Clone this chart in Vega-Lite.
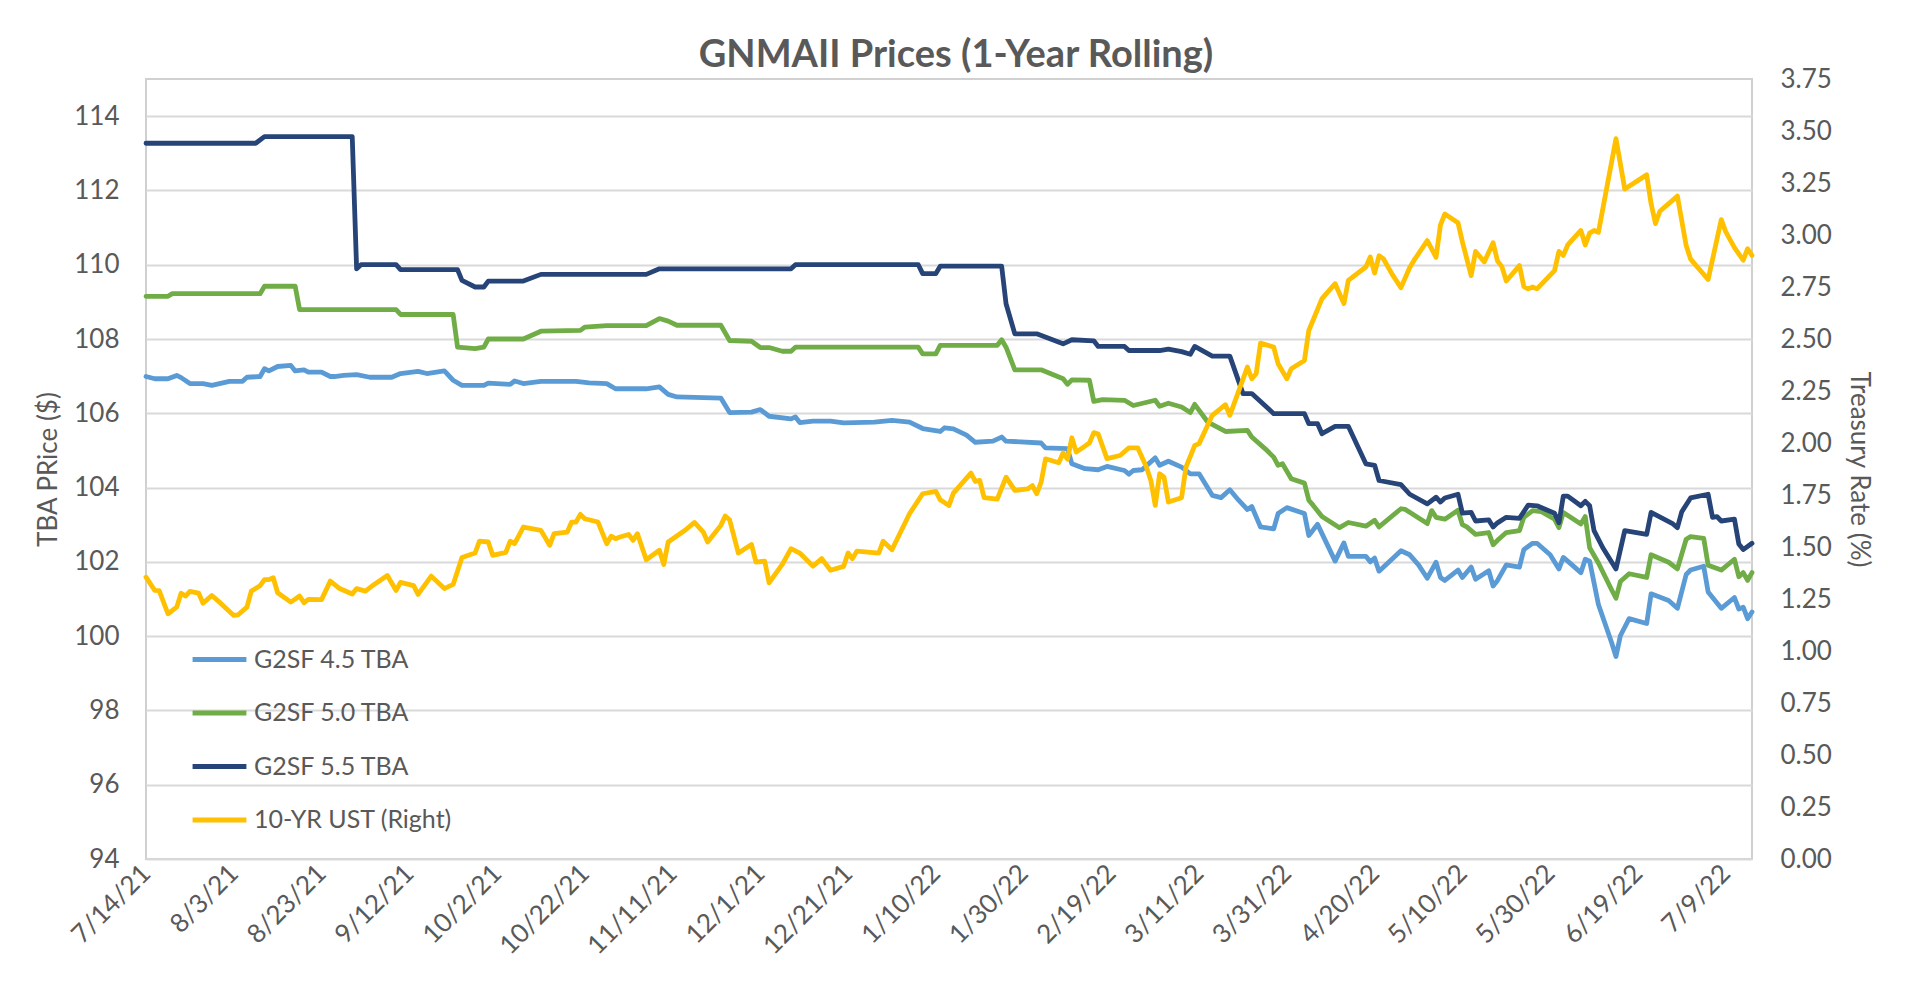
{
"$schema": "https://vega.github.io/schema/vega-lite/v6.json",
"width": 1606, "height": 780,
"autosize": {"type": "none"},
"padding": {"left": 146, "top": 79, "right": 155, "bottom": 136},
"background": "white",
"config": {
  "font": "Lato",
  "view": {"stroke": "#D0D0D0", "strokeWidth": 2},
  "axis": {"labelColor": "#595959", "titleColor": "#595959", "labelFont": "Lato", "titleFont": "Lato", "ticks": false, "domain": false, "labelFontSize": 26, "titleFontSize": 26, "titleFontWeight": "normal"}
},
"title": {"text": "GNMAII Prices (1-Year Rolling)", "fontSize": 38, "fontWeight": "bold", "color": "#595959", "font": "Lato", "anchor": "middle", "frame": "group", "offset": 10, "dy": 19, "dx": 7},
"data": {"values": [
{"date":"2021-07-14","series":"G2SF 4.5 TBA","value":106.99},
{"date":"2021-07-16","series":"G2SF 4.5 TBA","value":106.93},
{"date":"2021-07-19","series":"G2SF 4.5 TBA","value":106.93},
{"date":"2021-07-21","series":"G2SF 4.5 TBA","value":107.02},
{"date":"2021-07-22","series":"G2SF 4.5 TBA","value":106.96},
{"date":"2021-07-24","series":"G2SF 4.5 TBA","value":106.8},
{"date":"2021-07-27","series":"G2SF 4.5 TBA","value":106.8},
{"date":"2021-07-29","series":"G2SF 4.5 TBA","value":106.75},
{"date":"2021-08-02","series":"G2SF 4.5 TBA","value":106.86},
{"date":"2021-08-05","series":"G2SF 4.5 TBA","value":106.86},
{"date":"2021-08-06","series":"G2SF 4.5 TBA","value":106.97},
{"date":"2021-08-09","series":"G2SF 4.5 TBA","value":106.99},
{"date":"2021-08-10","series":"G2SF 4.5 TBA","value":107.2},
{"date":"2021-08-11","series":"G2SF 4.5 TBA","value":107.14},
{"date":"2021-08-13","series":"G2SF 4.5 TBA","value":107.26},
{"date":"2021-08-16","series":"G2SF 4.5 TBA","value":107.29},
{"date":"2021-08-17","series":"G2SF 4.5 TBA","value":107.14},
{"date":"2021-08-19","series":"G2SF 4.5 TBA","value":107.17},
{"date":"2021-08-20","series":"G2SF 4.5 TBA","value":107.11},
{"date":"2021-08-23","series":"G2SF 4.5 TBA","value":107.11},
{"date":"2021-08-25","series":"G2SF 4.5 TBA","value":106.99},
{"date":"2021-08-26","series":"G2SF 4.5 TBA","value":106.99},
{"date":"2021-08-28","series":"G2SF 4.5 TBA","value":107.02},
{"date":"2021-08-31","series":"G2SF 4.5 TBA","value":107.04},
{"date":"2021-09-03","series":"G2SF 4.5 TBA","value":106.97},
{"date":"2021-09-08","series":"G2SF 4.5 TBA","value":106.97},
{"date":"2021-09-10","series":"G2SF 4.5 TBA","value":107.07},
{"date":"2021-09-14","series":"G2SF 4.5 TBA","value":107.13},
{"date":"2021-09-16","series":"G2SF 4.5 TBA","value":107.07},
{"date":"2021-09-20","series":"G2SF 4.5 TBA","value":107.14},
{"date":"2021-09-22","series":"G2SF 4.5 TBA","value":106.89},
{"date":"2021-09-24","series":"G2SF 4.5 TBA","value":106.75},
{"date":"2021-09-29","series":"G2SF 4.5 TBA","value":106.75},
{"date":"2021-09-30","series":"G2SF 4.5 TBA","value":106.81},
{"date":"2021-10-05","series":"G2SF 4.5 TBA","value":106.78},
{"date":"2021-10-06","series":"G2SF 4.5 TBA","value":106.87},
{"date":"2021-10-08","series":"G2SF 4.5 TBA","value":106.8},
{"date":"2021-10-12","series":"G2SF 4.5 TBA","value":106.86},
{"date":"2021-10-20","series":"G2SF 4.5 TBA","value":106.86},
{"date":"2021-10-23","series":"G2SF 4.5 TBA","value":106.82},
{"date":"2021-10-27","series":"G2SF 4.5 TBA","value":106.8},
{"date":"2021-10-29","series":"G2SF 4.5 TBA","value":106.66},
{"date":"2021-11-05","series":"G2SF 4.5 TBA","value":106.66},
{"date":"2021-11-08","series":"G2SF 4.5 TBA","value":106.71},
{"date":"2021-11-10","series":"G2SF 4.5 TBA","value":106.51},
{"date":"2021-11-12","series":"G2SF 4.5 TBA","value":106.44},
{"date":"2021-11-22","series":"G2SF 4.5 TBA","value":106.41},
{"date":"2021-11-24","series":"G2SF 4.5 TBA","value":106.02},
{"date":"2021-11-29","series":"G2SF 4.5 TBA","value":106.03},
{"date":"2021-12-01","series":"G2SF 4.5 TBA","value":106.1},
{"date":"2021-12-03","series":"G2SF 4.5 TBA","value":105.92},
{"date":"2021-12-08","series":"G2SF 4.5 TBA","value":105.85},
{"date":"2021-12-09","series":"G2SF 4.5 TBA","value":105.9},
{"date":"2021-12-10","series":"G2SF 4.5 TBA","value":105.75},
{"date":"2021-12-13","series":"G2SF 4.5 TBA","value":105.79},
{"date":"2021-12-17","series":"G2SF 4.5 TBA","value":105.79},
{"date":"2021-12-20","series":"G2SF 4.5 TBA","value":105.74},
{"date":"2021-12-27","series":"G2SF 4.5 TBA","value":105.76},
{"date":"2021-12-31","series":"G2SF 4.5 TBA","value":105.81},
{"date":"2022-01-04","series":"G2SF 4.5 TBA","value":105.76},
{"date":"2022-01-07","series":"G2SF 4.5 TBA","value":105.59},
{"date":"2022-01-11","series":"G2SF 4.5 TBA","value":105.51},
{"date":"2022-01-12","series":"G2SF 4.5 TBA","value":105.61},
{"date":"2022-01-14","series":"G2SF 4.5 TBA","value":105.58},
{"date":"2022-01-17","series":"G2SF 4.5 TBA","value":105.41},
{"date":"2022-01-19","series":"G2SF 4.5 TBA","value":105.22},
{"date":"2022-01-23","series":"G2SF 4.5 TBA","value":105.25},
{"date":"2022-01-25","series":"G2SF 4.5 TBA","value":105.36},
{"date":"2022-01-26","series":"G2SF 4.5 TBA","value":105.25},
{"date":"2022-02-03","series":"G2SF 4.5 TBA","value":105.2},
{"date":"2022-02-04","series":"G2SF 4.5 TBA","value":105.07},
{"date":"2022-02-09","series":"G2SF 4.5 TBA","value":105.05},
{"date":"2022-02-10","series":"G2SF 4.5 TBA","value":104.64},
{"date":"2022-02-13","series":"G2SF 4.5 TBA","value":104.51},
{"date":"2022-02-16","series":"G2SF 4.5 TBA","value":104.48},
{"date":"2022-02-18","series":"G2SF 4.5 TBA","value":104.57},
{"date":"2022-02-22","series":"G2SF 4.5 TBA","value":104.46},
{"date":"2022-02-23","series":"G2SF 4.5 TBA","value":104.36},
{"date":"2022-02-24","series":"G2SF 4.5 TBA","value":104.46},
{"date":"2022-02-26","series":"G2SF 4.5 TBA","value":104.48},
{"date":"2022-03-01","series":"G2SF 4.5 TBA","value":104.8},
{"date":"2022-03-02","series":"G2SF 4.5 TBA","value":104.6},
{"date":"2022-03-04","series":"G2SF 4.5 TBA","value":104.71},
{"date":"2022-03-07","series":"G2SF 4.5 TBA","value":104.55},
{"date":"2022-03-09","series":"G2SF 4.5 TBA","value":104.37},
{"date":"2022-03-11","series":"G2SF 4.5 TBA","value":104.37},
{"date":"2022-03-14","series":"G2SF 4.5 TBA","value":103.79},
{"date":"2022-03-16","series":"G2SF 4.5 TBA","value":103.73},
{"date":"2022-03-18","series":"G2SF 4.5 TBA","value":103.94},
{"date":"2022-03-20","series":"G2SF 4.5 TBA","value":103.66},
{"date":"2022-03-22","series":"G2SF 4.5 TBA","value":103.41},
{"date":"2022-03-23","series":"G2SF 4.5 TBA","value":103.49},
{"date":"2022-03-25","series":"G2SF 4.5 TBA","value":102.94},
{"date":"2022-03-28","series":"G2SF 4.5 TBA","value":102.89},
{"date":"2022-03-29","series":"G2SF 4.5 TBA","value":103.3},
{"date":"2022-03-31","series":"G2SF 4.5 TBA","value":103.46},
{"date":"2022-04-04","series":"G2SF 4.5 TBA","value":103.3},
{"date":"2022-04-05","series":"G2SF 4.5 TBA","value":102.71},
{"date":"2022-04-07","series":"G2SF 4.5 TBA","value":103.01},
{"date":"2022-04-11","series":"G2SF 4.5 TBA","value":102.02},
{"date":"2022-04-13","series":"G2SF 4.5 TBA","value":102.51},
{"date":"2022-04-14","series":"G2SF 4.5 TBA","value":102.15},
{"date":"2022-04-18","series":"G2SF 4.5 TBA","value":102.15},
{"date":"2022-04-19","series":"G2SF 4.5 TBA","value":102.0},
{"date":"2022-04-20","series":"G2SF 4.5 TBA","value":102.1},
{"date":"2022-04-21","series":"G2SF 4.5 TBA","value":101.75},
{"date":"2022-04-26","series":"G2SF 4.5 TBA","value":102.3},
{"date":"2022-04-28","series":"G2SF 4.5 TBA","value":102.19},
{"date":"2022-04-30","series":"G2SF 4.5 TBA","value":101.92},
{"date":"2022-05-02","series":"G2SF 4.5 TBA","value":101.56},
{"date":"2022-05-04","series":"G2SF 4.5 TBA","value":101.99},
{"date":"2022-05-05","series":"G2SF 4.5 TBA","value":101.58},
{"date":"2022-05-06","series":"G2SF 4.5 TBA","value":101.5},
{"date":"2022-05-09","series":"G2SF 4.5 TBA","value":101.78},
{"date":"2022-05-10","series":"G2SF 4.5 TBA","value":101.58},
{"date":"2022-05-12","series":"G2SF 4.5 TBA","value":101.86},
{"date":"2022-05-13","series":"G2SF 4.5 TBA","value":101.53},
{"date":"2022-05-16","series":"G2SF 4.5 TBA","value":101.76},
{"date":"2022-05-17","series":"G2SF 4.5 TBA","value":101.35},
{"date":"2022-05-18","series":"G2SF 4.5 TBA","value":101.5},
{"date":"2022-05-20","series":"G2SF 4.5 TBA","value":101.92},
{"date":"2022-05-23","series":"G2SF 4.5 TBA","value":101.86},
{"date":"2022-05-24","series":"G2SF 4.5 TBA","value":102.33},
{"date":"2022-05-26","series":"G2SF 4.5 TBA","value":102.5},
{"date":"2022-05-27","series":"G2SF 4.5 TBA","value":102.5},
{"date":"2022-05-30","series":"G2SF 4.5 TBA","value":102.19},
{"date":"2022-06-01","series":"G2SF 4.5 TBA","value":101.81},
{"date":"2022-06-02","series":"G2SF 4.5 TBA","value":102.12},
{"date":"2022-06-03","series":"G2SF 4.5 TBA","value":102.02},
{"date":"2022-06-06","series":"G2SF 4.5 TBA","value":101.71},
{"date":"2022-06-07","series":"G2SF 4.5 TBA","value":102.07},
{"date":"2022-06-08","series":"G2SF 4.5 TBA","value":102.02},
{"date":"2022-06-10","series":"G2SF 4.5 TBA","value":100.85},
{"date":"2022-06-13","series":"G2SF 4.5 TBA","value":99.83},
{"date":"2022-06-14","series":"G2SF 4.5 TBA","value":99.45},
{"date":"2022-06-15","series":"G2SF 4.5 TBA","value":100.01},
{"date":"2022-06-17","series":"G2SF 4.5 TBA","value":100.47},
{"date":"2022-06-21","series":"G2SF 4.5 TBA","value":100.34},
{"date":"2022-06-22","series":"G2SF 4.5 TBA","value":101.14},
{"date":"2022-06-26","series":"G2SF 4.5 TBA","value":100.96},
{"date":"2022-06-28","series":"G2SF 4.5 TBA","value":100.75},
{"date":"2022-06-30","series":"G2SF 4.5 TBA","value":101.66},
{"date":"2022-07-01","series":"G2SF 4.5 TBA","value":101.78},
{"date":"2022-07-04","series":"G2SF 4.5 TBA","value":101.88},
{"date":"2022-07-05","series":"G2SF 4.5 TBA","value":101.19},
{"date":"2022-07-08","series":"G2SF 4.5 TBA","value":100.75},
{"date":"2022-07-11","series":"G2SF 4.5 TBA","value":101.04},
{"date":"2022-07-12","series":"G2SF 4.5 TBA","value":100.73},
{"date":"2022-07-13","series":"G2SF 4.5 TBA","value":100.78},
{"date":"2022-07-14","series":"G2SF 4.5 TBA","value":100.47},
{"date":"2022-07-15","series":"G2SF 4.5 TBA","value":100.65},
{"date":"2021-07-14","series":"G2SF 5.0 TBA","value":109.15},
{"date":"2021-07-19","series":"G2SF 5.0 TBA","value":109.15},
{"date":"2021-07-20","series":"G2SF 5.0 TBA","value":109.22},
{"date":"2021-08-09","series":"G2SF 5.0 TBA","value":109.22},
{"date":"2021-08-10","series":"G2SF 5.0 TBA","value":109.42},
{"date":"2021-08-17","series":"G2SF 5.0 TBA","value":109.42},
{"date":"2021-08-18","series":"G2SF 5.0 TBA","value":108.79},
{"date":"2021-09-09","series":"G2SF 5.0 TBA","value":108.79},
{"date":"2021-09-10","series":"G2SF 5.0 TBA","value":108.66},
{"date":"2021-09-22","series":"G2SF 5.0 TBA","value":108.66},
{"date":"2021-09-23","series":"G2SF 5.0 TBA","value":107.78},
{"date":"2021-09-27","series":"G2SF 5.0 TBA","value":107.74},
{"date":"2021-09-29","series":"G2SF 5.0 TBA","value":107.78},
{"date":"2021-09-30","series":"G2SF 5.0 TBA","value":108.0},
{"date":"2021-10-08","series":"G2SF 5.0 TBA","value":108.0},
{"date":"2021-10-12","series":"G2SF 5.0 TBA","value":108.21},
{"date":"2021-10-21","series":"G2SF 5.0 TBA","value":108.23},
{"date":"2021-10-22","series":"G2SF 5.0 TBA","value":108.32},
{"date":"2021-10-27","series":"G2SF 5.0 TBA","value":108.36},
{"date":"2021-11-05","series":"G2SF 5.0 TBA","value":108.36},
{"date":"2021-11-08","series":"G2SF 5.0 TBA","value":108.55},
{"date":"2021-11-10","series":"G2SF 5.0 TBA","value":108.48},
{"date":"2021-11-12","series":"G2SF 5.0 TBA","value":108.37},
{"date":"2021-11-22","series":"G2SF 5.0 TBA","value":108.37},
{"date":"2021-11-24","series":"G2SF 5.0 TBA","value":107.96},
{"date":"2021-11-29","series":"G2SF 5.0 TBA","value":107.94},
{"date":"2021-12-01","series":"G2SF 5.0 TBA","value":107.77},
{"date":"2021-12-03","series":"G2SF 5.0 TBA","value":107.77},
{"date":"2021-12-06","series":"G2SF 5.0 TBA","value":107.67},
{"date":"2021-12-08","series":"G2SF 5.0 TBA","value":107.67},
{"date":"2021-12-09","series":"G2SF 5.0 TBA","value":107.78},
{"date":"2022-01-06","series":"G2SF 5.0 TBA","value":107.78},
{"date":"2022-01-07","series":"G2SF 5.0 TBA","value":107.6},
{"date":"2022-01-10","series":"G2SF 5.0 TBA","value":107.6},
{"date":"2022-01-11","series":"G2SF 5.0 TBA","value":107.83},
{"date":"2022-01-24","series":"G2SF 5.0 TBA","value":107.83},
{"date":"2022-01-25","series":"G2SF 5.0 TBA","value":107.98},
{"date":"2022-01-26","series":"G2SF 5.0 TBA","value":107.78},
{"date":"2022-01-28","series":"G2SF 5.0 TBA","value":107.17},
{"date":"2022-02-03","series":"G2SF 5.0 TBA","value":107.17},
{"date":"2022-02-08","series":"G2SF 5.0 TBA","value":106.93},
{"date":"2022-02-09","series":"G2SF 5.0 TBA","value":106.78},
{"date":"2022-02-10","series":"G2SF 5.0 TBA","value":106.9},
{"date":"2022-02-14","series":"G2SF 5.0 TBA","value":106.89},
{"date":"2022-02-15","series":"G2SF 5.0 TBA","value":106.32},
{"date":"2022-02-17","series":"G2SF 5.0 TBA","value":106.37},
{"date":"2022-02-22","series":"G2SF 5.0 TBA","value":106.35},
{"date":"2022-02-24","series":"G2SF 5.0 TBA","value":106.21},
{"date":"2022-03-01","series":"G2SF 5.0 TBA","value":106.35},
{"date":"2022-03-02","series":"G2SF 5.0 TBA","value":106.19},
{"date":"2022-03-04","series":"G2SF 5.0 TBA","value":106.27},
{"date":"2022-03-07","series":"G2SF 5.0 TBA","value":106.17},
{"date":"2022-03-09","series":"G2SF 5.0 TBA","value":106.02},
{"date":"2022-03-10","series":"G2SF 5.0 TBA","value":106.24},
{"date":"2022-03-13","series":"G2SF 5.0 TBA","value":105.76},
{"date":"2022-03-17","series":"G2SF 5.0 TBA","value":105.51},
{"date":"2022-03-22","series":"G2SF 5.0 TBA","value":105.54},
{"date":"2022-03-23","series":"G2SF 5.0 TBA","value":105.36},
{"date":"2022-03-26","series":"G2SF 5.0 TBA","value":105.05},
{"date":"2022-03-28","series":"G2SF 5.0 TBA","value":104.82},
{"date":"2022-03-29","series":"G2SF 5.0 TBA","value":104.6},
{"date":"2022-03-30","series":"G2SF 5.0 TBA","value":104.64},
{"date":"2022-04-01","series":"G2SF 5.0 TBA","value":104.24},
{"date":"2022-04-04","series":"G2SF 5.0 TBA","value":104.12},
{"date":"2022-04-05","series":"G2SF 5.0 TBA","value":103.66},
{"date":"2022-04-06","series":"G2SF 5.0 TBA","value":103.52},
{"date":"2022-04-08","series":"G2SF 5.0 TBA","value":103.22},
{"date":"2022-04-12","series":"G2SF 5.0 TBA","value":102.92},
{"date":"2022-04-14","series":"G2SF 5.0 TBA","value":103.06},
{"date":"2022-04-18","series":"G2SF 5.0 TBA","value":102.96},
{"date":"2022-04-20","series":"G2SF 5.0 TBA","value":103.12},
{"date":"2022-04-21","series":"G2SF 5.0 TBA","value":102.94},
{"date":"2022-04-26","series":"G2SF 5.0 TBA","value":103.43},
{"date":"2022-04-27","series":"G2SF 5.0 TBA","value":103.41},
{"date":"2022-05-02","series":"G2SF 5.0 TBA","value":103.03},
{"date":"2022-05-03","series":"G2SF 5.0 TBA","value":103.38},
{"date":"2022-05-04","series":"G2SF 5.0 TBA","value":103.2},
{"date":"2022-05-06","series":"G2SF 5.0 TBA","value":103.15},
{"date":"2022-05-09","series":"G2SF 5.0 TBA","value":103.39},
{"date":"2022-05-10","series":"G2SF 5.0 TBA","value":103.0},
{"date":"2022-05-11","series":"G2SF 5.0 TBA","value":102.94},
{"date":"2022-05-13","series":"G2SF 5.0 TBA","value":102.74},
{"date":"2022-05-16","series":"G2SF 5.0 TBA","value":102.79},
{"date":"2022-05-17","series":"G2SF 5.0 TBA","value":102.46},
{"date":"2022-05-18","series":"G2SF 5.0 TBA","value":102.58},
{"date":"2022-05-20","series":"G2SF 5.0 TBA","value":102.79},
{"date":"2022-05-23","series":"G2SF 5.0 TBA","value":102.84},
{"date":"2022-05-24","series":"G2SF 5.0 TBA","value":103.2},
{"date":"2022-05-26","series":"G2SF 5.0 TBA","value":103.38},
{"date":"2022-05-28","series":"G2SF 5.0 TBA","value":103.35},
{"date":"2022-05-31","series":"G2SF 5.0 TBA","value":103.15},
{"date":"2022-06-01","series":"G2SF 5.0 TBA","value":102.92},
{"date":"2022-06-02","series":"G2SF 5.0 TBA","value":103.33},
{"date":"2022-06-06","series":"G2SF 5.0 TBA","value":103.02},
{"date":"2022-06-07","series":"G2SF 5.0 TBA","value":103.22},
{"date":"2022-06-08","series":"G2SF 5.0 TBA","value":102.38},
{"date":"2022-06-10","series":"G2SF 5.0 TBA","value":101.97},
{"date":"2022-06-13","series":"G2SF 5.0 TBA","value":101.25},
{"date":"2022-06-14","series":"G2SF 5.0 TBA","value":101.02},
{"date":"2022-06-15","series":"G2SF 5.0 TBA","value":101.47},
{"date":"2022-06-17","series":"G2SF 5.0 TBA","value":101.68},
{"date":"2022-06-21","series":"G2SF 5.0 TBA","value":101.58},
{"date":"2022-06-22","series":"G2SF 5.0 TBA","value":102.19},
{"date":"2022-06-26","series":"G2SF 5.0 TBA","value":101.99},
{"date":"2022-06-28","series":"G2SF 5.0 TBA","value":101.81},
{"date":"2022-06-30","series":"G2SF 5.0 TBA","value":102.61},
{"date":"2022-07-01","series":"G2SF 5.0 TBA","value":102.68},
{"date":"2022-07-04","series":"G2SF 5.0 TBA","value":102.63},
{"date":"2022-07-05","series":"G2SF 5.0 TBA","value":101.91},
{"date":"2022-07-08","series":"G2SF 5.0 TBA","value":101.78},
{"date":"2022-07-11","series":"G2SF 5.0 TBA","value":102.07},
{"date":"2022-07-12","series":"G2SF 5.0 TBA","value":101.6},
{"date":"2022-07-13","series":"G2SF 5.0 TBA","value":101.71},
{"date":"2022-07-14","series":"G2SF 5.0 TBA","value":101.5},
{"date":"2022-07-15","series":"G2SF 5.0 TBA","value":101.71},
{"date":"2021-07-14","series":"G2SF 5.5 TBA","value":113.27},
{"date":"2021-08-08","series":"G2SF 5.5 TBA","value":113.27},
{"date":"2021-08-10","series":"G2SF 5.5 TBA","value":113.45},
{"date":"2021-08-30","series":"G2SF 5.5 TBA","value":113.45},
{"date":"2021-08-31","series":"G2SF 5.5 TBA","value":109.89},
{"date":"2021-09-01","series":"G2SF 5.5 TBA","value":110.0},
{"date":"2021-09-09","series":"G2SF 5.5 TBA","value":110.0},
{"date":"2021-09-10","series":"G2SF 5.5 TBA","value":109.87},
{"date":"2021-09-23","series":"G2SF 5.5 TBA","value":109.87},
{"date":"2021-09-24","series":"G2SF 5.5 TBA","value":109.58},
{"date":"2021-09-27","series":"G2SF 5.5 TBA","value":109.4},
{"date":"2021-09-29","series":"G2SF 5.5 TBA","value":109.4},
{"date":"2021-09-30","series":"G2SF 5.5 TBA","value":109.56},
{"date":"2021-10-08","series":"G2SF 5.5 TBA","value":109.56},
{"date":"2021-10-12","series":"G2SF 5.5 TBA","value":109.74},
{"date":"2021-11-05","series":"G2SF 5.5 TBA","value":109.74},
{"date":"2021-11-08","series":"G2SF 5.5 TBA","value":109.89},
{"date":"2021-12-08","series":"G2SF 5.5 TBA","value":109.89},
{"date":"2021-12-09","series":"G2SF 5.5 TBA","value":110.0},
{"date":"2022-01-06","series":"G2SF 5.5 TBA","value":110.0},
{"date":"2022-01-07","series":"G2SF 5.5 TBA","value":109.76},
{"date":"2022-01-10","series":"G2SF 5.5 TBA","value":109.76},
{"date":"2022-01-11","series":"G2SF 5.5 TBA","value":109.96},
{"date":"2022-01-25","series":"G2SF 5.5 TBA","value":109.96},
{"date":"2022-01-26","series":"G2SF 5.5 TBA","value":108.95},
{"date":"2022-01-28","series":"G2SF 5.5 TBA","value":108.14},
{"date":"2022-02-02","series":"G2SF 5.5 TBA","value":108.14},
{"date":"2022-02-08","series":"G2SF 5.5 TBA","value":107.87},
{"date":"2022-02-10","series":"G2SF 5.5 TBA","value":107.98},
{"date":"2022-02-15","series":"G2SF 5.5 TBA","value":107.95},
{"date":"2022-02-16","series":"G2SF 5.5 TBA","value":107.8},
{"date":"2022-02-22","series":"G2SF 5.5 TBA","value":107.8},
{"date":"2022-02-23","series":"G2SF 5.5 TBA","value":107.69},
{"date":"2022-03-02","series":"G2SF 5.5 TBA","value":107.69},
{"date":"2022-03-04","series":"G2SF 5.5 TBA","value":107.73},
{"date":"2022-03-07","series":"G2SF 5.5 TBA","value":107.66},
{"date":"2022-03-09","series":"G2SF 5.5 TBA","value":107.59},
{"date":"2022-03-10","series":"G2SF 5.5 TBA","value":107.8},
{"date":"2022-03-14","series":"G2SF 5.5 TBA","value":107.54},
{"date":"2022-03-18","series":"G2SF 5.5 TBA","value":107.54},
{"date":"2022-03-21","series":"G2SF 5.5 TBA","value":106.53},
{"date":"2022-03-23","series":"G2SF 5.5 TBA","value":106.53},
{"date":"2022-03-28","series":"G2SF 5.5 TBA","value":105.99},
{"date":"2022-04-04","series":"G2SF 5.5 TBA","value":105.99},
{"date":"2022-04-05","series":"G2SF 5.5 TBA","value":105.72},
{"date":"2022-04-07","series":"G2SF 5.5 TBA","value":105.72},
{"date":"2022-04-08","series":"G2SF 5.5 TBA","value":105.45},
{"date":"2022-04-11","series":"G2SF 5.5 TBA","value":105.65},
{"date":"2022-04-14","series":"G2SF 5.5 TBA","value":105.65},
{"date":"2022-04-18","series":"G2SF 5.5 TBA","value":104.64},
{"date":"2022-04-20","series":"G2SF 5.5 TBA","value":104.6},
{"date":"2022-04-21","series":"G2SF 5.5 TBA","value":104.19},
{"date":"2022-04-26","series":"G2SF 5.5 TBA","value":104.08},
{"date":"2022-04-28","series":"G2SF 5.5 TBA","value":103.82},
{"date":"2022-05-02","series":"G2SF 5.5 TBA","value":103.56},
{"date":"2022-05-04","series":"G2SF 5.5 TBA","value":103.74},
{"date":"2022-05-05","series":"G2SF 5.5 TBA","value":103.61},
{"date":"2022-05-06","series":"G2SF 5.5 TBA","value":103.72},
{"date":"2022-05-09","series":"G2SF 5.5 TBA","value":103.82},
{"date":"2022-05-10","series":"G2SF 5.5 TBA","value":103.31},
{"date":"2022-05-12","series":"G2SF 5.5 TBA","value":103.33},
{"date":"2022-05-13","series":"G2SF 5.5 TBA","value":103.1},
{"date":"2022-05-16","series":"G2SF 5.5 TBA","value":103.13},
{"date":"2022-05-17","series":"G2SF 5.5 TBA","value":102.94},
{"date":"2022-05-18","series":"G2SF 5.5 TBA","value":103.05},
{"date":"2022-05-20","series":"G2SF 5.5 TBA","value":103.2},
{"date":"2022-05-23","series":"G2SF 5.5 TBA","value":103.17},
{"date":"2022-05-25","series":"G2SF 5.5 TBA","value":103.53},
{"date":"2022-05-27","series":"G2SF 5.5 TBA","value":103.51},
{"date":"2022-05-31","series":"G2SF 5.5 TBA","value":103.31},
{"date":"2022-06-01","series":"G2SF 5.5 TBA","value":103.05},
{"date":"2022-06-02","series":"G2SF 5.5 TBA","value":103.77},
{"date":"2022-06-03","series":"G2SF 5.5 TBA","value":103.77},
{"date":"2022-06-06","series":"G2SF 5.5 TBA","value":103.51},
{"date":"2022-06-07","series":"G2SF 5.5 TBA","value":103.63},
{"date":"2022-06-08","series":"G2SF 5.5 TBA","value":103.51},
{"date":"2022-06-09","series":"G2SF 5.5 TBA","value":102.84},
{"date":"2022-06-11","series":"G2SF 5.5 TBA","value":102.38},
{"date":"2022-06-14","series":"G2SF 5.5 TBA","value":101.81},
{"date":"2022-06-16","series":"G2SF 5.5 TBA","value":102.84},
{"date":"2022-06-21","series":"G2SF 5.5 TBA","value":102.74},
{"date":"2022-06-22","series":"G2SF 5.5 TBA","value":103.33},
{"date":"2022-06-27","series":"G2SF 5.5 TBA","value":103.02},
{"date":"2022-06-28","series":"G2SF 5.5 TBA","value":102.92},
{"date":"2022-06-29","series":"G2SF 5.5 TBA","value":103.35},
{"date":"2022-07-01","series":"G2SF 5.5 TBA","value":103.72},
{"date":"2022-07-05","series":"G2SF 5.5 TBA","value":103.82},
{"date":"2022-07-06","series":"G2SF 5.5 TBA","value":103.2},
{"date":"2022-07-07","series":"G2SF 5.5 TBA","value":103.22},
{"date":"2022-07-08","series":"G2SF 5.5 TBA","value":103.1},
{"date":"2022-07-11","series":"G2SF 5.5 TBA","value":103.15},
{"date":"2022-07-12","series":"G2SF 5.5 TBA","value":102.48},
{"date":"2022-07-13","series":"G2SF 5.5 TBA","value":102.33},
{"date":"2022-07-15","series":"G2SF 5.5 TBA","value":102.5},
{"date":"2021-07-14","series":"10-YR UST (Right)","value":1.355},
{"date":"2021-07-16","series":"10-YR UST (Right)","value":1.291},
{"date":"2021-07-17","series":"10-YR UST (Right)","value":1.29},
{"date":"2021-07-19","series":"10-YR UST (Right)","value":1.179},
{"date":"2021-07-21","series":"10-YR UST (Right)","value":1.211},
{"date":"2021-07-22","series":"10-YR UST (Right)","value":1.278},
{"date":"2021-07-23","series":"10-YR UST (Right)","value":1.264},
{"date":"2021-07-24","series":"10-YR UST (Right)","value":1.287},
{"date":"2021-07-26","series":"10-YR UST (Right)","value":1.278},
{"date":"2021-07-27","series":"10-YR UST (Right)","value":1.23},
{"date":"2021-07-29","series":"10-YR UST (Right)","value":1.267},
{"date":"2021-07-31","series":"10-YR UST (Right)","value":1.23},
{"date":"2021-08-03","series":"10-YR UST (Right)","value":1.171},
{"date":"2021-08-04","series":"10-YR UST (Right)","value":1.174},
{"date":"2021-08-06","series":"10-YR UST (Right)","value":1.211},
{"date":"2021-08-07","series":"10-YR UST (Right)","value":1.288},
{"date":"2021-08-09","series":"10-YR UST (Right)","value":1.314},
{"date":"2021-08-10","series":"10-YR UST (Right)","value":1.343},
{"date":"2021-08-11","series":"10-YR UST (Right)","value":1.343},
{"date":"2021-08-12","series":"10-YR UST (Right)","value":1.352},
{"date":"2021-08-13","series":"10-YR UST (Right)","value":1.28},
{"date":"2021-08-16","series":"10-YR UST (Right)","value":1.235},
{"date":"2021-08-18","series":"10-YR UST (Right)","value":1.264},
{"date":"2021-08-19","series":"10-YR UST (Right)","value":1.232},
{"date":"2021-08-20","series":"10-YR UST (Right)","value":1.248},
{"date":"2021-08-23","series":"10-YR UST (Right)","value":1.247},
{"date":"2021-08-25","series":"10-YR UST (Right)","value":1.336},
{"date":"2021-08-27","series":"10-YR UST (Right)","value":1.302},
{"date":"2021-08-30","series":"10-YR UST (Right)","value":1.274},
{"date":"2021-08-31","series":"10-YR UST (Right)","value":1.3},
{"date":"2021-09-02","series":"10-YR UST (Right)","value":1.288},
{"date":"2021-09-04","series":"10-YR UST (Right)","value":1.32},
{"date":"2021-09-07","series":"10-YR UST (Right)","value":1.363},
{"date":"2021-09-09","series":"10-YR UST (Right)","value":1.291},
{"date":"2021-09-10","series":"10-YR UST (Right)","value":1.33},
{"date":"2021-09-13","series":"10-YR UST (Right)","value":1.314},
{"date":"2021-09-14","series":"10-YR UST (Right)","value":1.272},
{"date":"2021-09-17","series":"10-YR UST (Right)","value":1.36},
{"date":"2021-09-20","series":"10-YR UST (Right)","value":1.3},
{"date":"2021-09-22","series":"10-YR UST (Right)","value":1.32},
{"date":"2021-09-24","series":"10-YR UST (Right)","value":1.449},
{"date":"2021-09-27","series":"10-YR UST (Right)","value":1.471},
{"date":"2021-09-28","series":"10-YR UST (Right)","value":1.528},
{"date":"2021-09-30","series":"10-YR UST (Right)","value":1.524},
{"date":"2021-10-01","series":"10-YR UST (Right)","value":1.46},
{"date":"2021-10-04","series":"10-YR UST (Right)","value":1.474},
{"date":"2021-10-05","series":"10-YR UST (Right)","value":1.528},
{"date":"2021-10-06","series":"10-YR UST (Right)","value":1.516},
{"date":"2021-10-08","series":"10-YR UST (Right)","value":1.596},
{"date":"2021-10-12","series":"10-YR UST (Right)","value":1.58},
{"date":"2021-10-14","series":"10-YR UST (Right)","value":1.508},
{"date":"2021-10-15","series":"10-YR UST (Right)","value":1.564},
{"date":"2021-10-18","series":"10-YR UST (Right)","value":1.572},
{"date":"2021-10-19","series":"10-YR UST (Right)","value":1.62},
{"date":"2021-10-20","series":"10-YR UST (Right)","value":1.62},
{"date":"2021-10-21","series":"10-YR UST (Right)","value":1.657},
{"date":"2021-10-22","series":"10-YR UST (Right)","value":1.636},
{"date":"2021-10-25","series":"10-YR UST (Right)","value":1.62},
{"date":"2021-10-27","series":"10-YR UST (Right)","value":1.516},
{"date":"2021-10-28","series":"10-YR UST (Right)","value":1.552},
{"date":"2021-10-29","series":"10-YR UST (Right)","value":1.54},
{"date":"2021-10-30","series":"10-YR UST (Right)","value":1.548},
{"date":"2021-11-01","series":"10-YR UST (Right)","value":1.56},
{"date":"2021-11-02","series":"10-YR UST (Right)","value":1.532},
{"date":"2021-11-03","series":"10-YR UST (Right)","value":1.564},
{"date":"2021-11-05","series":"10-YR UST (Right)","value":1.439},
{"date":"2021-11-08","series":"10-YR UST (Right)","value":1.484},
{"date":"2021-11-09","series":"10-YR UST (Right)","value":1.416},
{"date":"2021-11-10","series":"10-YR UST (Right)","value":1.524},
{"date":"2021-11-14","series":"10-YR UST (Right)","value":1.583},
{"date":"2021-11-16","series":"10-YR UST (Right)","value":1.618},
{"date":"2021-11-18","series":"10-YR UST (Right)","value":1.572},
{"date":"2021-11-19","series":"10-YR UST (Right)","value":1.524},
{"date":"2021-11-22","series":"10-YR UST (Right)","value":1.604},
{"date":"2021-11-23","series":"10-YR UST (Right)","value":1.649},
{"date":"2021-11-24","series":"10-YR UST (Right)","value":1.631},
{"date":"2021-11-26","series":"10-YR UST (Right)","value":1.471},
{"date":"2021-11-29","series":"10-YR UST (Right)","value":1.512},
{"date":"2021-11-30","series":"10-YR UST (Right)","value":1.427},
{"date":"2021-12-02","series":"10-YR UST (Right)","value":1.432},
{"date":"2021-12-03","series":"10-YR UST (Right)","value":1.328},
{"date":"2021-12-06","series":"10-YR UST (Right)","value":1.416},
{"date":"2021-12-08","series":"10-YR UST (Right)","value":1.492},
{"date":"2021-12-10","series":"10-YR UST (Right)","value":1.471},
{"date":"2021-12-13","series":"10-YR UST (Right)","value":1.408},
{"date":"2021-12-15","series":"10-YR UST (Right)","value":1.444},
{"date":"2021-12-17","series":"10-YR UST (Right)","value":1.388},
{"date":"2021-12-20","series":"10-YR UST (Right)","value":1.407},
{"date":"2021-12-21","series":"10-YR UST (Right)","value":1.471},
{"date":"2021-12-22","series":"10-YR UST (Right)","value":1.444},
{"date":"2021-12-23","series":"10-YR UST (Right)","value":1.48},
{"date":"2021-12-28","series":"10-YR UST (Right)","value":1.471},
{"date":"2021-12-29","series":"10-YR UST (Right)","value":1.528},
{"date":"2021-12-31","series":"10-YR UST (Right)","value":1.487},
{"date":"2022-01-04","series":"10-YR UST (Right)","value":1.66},
{"date":"2022-01-07","series":"10-YR UST (Right)","value":1.756},
{"date":"2022-01-10","series":"10-YR UST (Right)","value":1.767},
{"date":"2022-01-11","series":"10-YR UST (Right)","value":1.727},
{"date":"2022-01-13","series":"10-YR UST (Right)","value":1.7},
{"date":"2022-01-14","series":"10-YR UST (Right)","value":1.759},
{"date":"2022-01-18","series":"10-YR UST (Right)","value":1.855},
{"date":"2022-01-19","series":"10-YR UST (Right)","value":1.815},
{"date":"2022-01-20","series":"10-YR UST (Right)","value":1.82},
{"date":"2022-01-21","series":"10-YR UST (Right)","value":1.737},
{"date":"2022-01-24","series":"10-YR UST (Right)","value":1.73},
{"date":"2022-01-26","series":"10-YR UST (Right)","value":1.836},
{"date":"2022-01-28","series":"10-YR UST (Right)","value":1.772},
{"date":"2022-01-31","series":"10-YR UST (Right)","value":1.78},
{"date":"2022-02-01","series":"10-YR UST (Right)","value":1.795},
{"date":"2022-02-02","series":"10-YR UST (Right)","value":1.756},
{"date":"2022-02-03","series":"10-YR UST (Right)","value":1.812},
{"date":"2022-02-04","series":"10-YR UST (Right)","value":1.924},
{"date":"2022-02-07","series":"10-YR UST (Right)","value":1.905},
{"date":"2022-02-08","series":"10-YR UST (Right)","value":1.952},
{"date":"2022-02-09","series":"10-YR UST (Right)","value":1.922},
{"date":"2022-02-10","series":"10-YR UST (Right)","value":2.025},
{"date":"2022-02-11","series":"10-YR UST (Right)","value":1.956},
{"date":"2022-02-14","series":"10-YR UST (Right)","value":2.0},
{"date":"2022-02-15","series":"10-YR UST (Right)","value":2.05},
{"date":"2022-02-16","series":"10-YR UST (Right)","value":2.043},
{"date":"2022-02-18","series":"10-YR UST (Right)","value":1.925},
{"date":"2022-02-21","series":"10-YR UST (Right)","value":1.94},
{"date":"2022-02-23","series":"10-YR UST (Right)","value":1.977},
{"date":"2022-02-25","series":"10-YR UST (Right)","value":1.977},
{"date":"2022-02-27","series":"10-YR UST (Right)","value":1.884},
{"date":"2022-02-28","series":"10-YR UST (Right)","value":1.82},
{"date":"2022-03-01","series":"10-YR UST (Right)","value":1.7},
{"date":"2022-03-02","series":"10-YR UST (Right)","value":1.852},
{"date":"2022-03-03","series":"10-YR UST (Right)","value":1.836},
{"date":"2022-03-04","series":"10-YR UST (Right)","value":1.716},
{"date":"2022-03-07","series":"10-YR UST (Right)","value":1.737},
{"date":"2022-03-08","series":"10-YR UST (Right)","value":1.884},
{"date":"2022-03-10","series":"10-YR UST (Right)","value":1.988},
{"date":"2022-03-11","series":"10-YR UST (Right)","value":1.997},
{"date":"2022-03-14","series":"10-YR UST (Right)","value":2.133},
{"date":"2022-03-17","series":"10-YR UST (Right)","value":2.184},
{"date":"2022-03-18","series":"10-YR UST (Right)","value":2.133},
{"date":"2022-03-22","series":"10-YR UST (Right)","value":2.365},
{"date":"2022-03-23","series":"10-YR UST (Right)","value":2.309},
{"date":"2022-03-24","series":"10-YR UST (Right)","value":2.333},
{"date":"2022-03-25","series":"10-YR UST (Right)","value":2.48},
{"date":"2022-03-28","series":"10-YR UST (Right)","value":2.461},
{"date":"2022-03-29","series":"10-YR UST (Right)","value":2.381},
{"date":"2022-03-31","series":"10-YR UST (Right)","value":2.309},
{"date":"2022-04-01","series":"10-YR UST (Right)","value":2.357},
{"date":"2022-04-04","series":"10-YR UST (Right)","value":2.397},
{"date":"2022-04-05","series":"10-YR UST (Right)","value":2.541},
{"date":"2022-04-08","series":"10-YR UST (Right)","value":2.694},
{"date":"2022-04-11","series":"10-YR UST (Right)","value":2.766},
{"date":"2022-04-13","series":"10-YR UST (Right)","value":2.67},
{"date":"2022-04-14","series":"10-YR UST (Right)","value":2.782},
{"date":"2022-04-18","series":"10-YR UST (Right)","value":2.846},
{"date":"2022-04-19","series":"10-YR UST (Right)","value":2.894},
{"date":"2022-04-20","series":"10-YR UST (Right)","value":2.817},
{"date":"2022-04-21","series":"10-YR UST (Right)","value":2.9},
{"date":"2022-04-22","series":"10-YR UST (Right)","value":2.886},
{"date":"2022-04-24","series":"10-YR UST (Right)","value":2.811},
{"date":"2022-04-26","series":"10-YR UST (Right)","value":2.747},
{"date":"2022-04-28","series":"10-YR UST (Right)","value":2.844},
{"date":"2022-04-29","series":"10-YR UST (Right)","value":2.879},
{"date":"2022-05-02","series":"10-YR UST (Right)","value":2.973},
{"date":"2022-05-04","series":"10-YR UST (Right)","value":2.893},
{"date":"2022-05-05","series":"10-YR UST (Right)","value":3.049},
{"date":"2022-05-06","series":"10-YR UST (Right)","value":3.101},
{"date":"2022-05-09","series":"10-YR UST (Right)","value":3.059},
{"date":"2022-05-10","series":"10-YR UST (Right)","value":2.967},
{"date":"2022-05-12","series":"10-YR UST (Right)","value":2.805},
{"date":"2022-05-13","series":"10-YR UST (Right)","value":2.921},
{"date":"2022-05-15","series":"10-YR UST (Right)","value":2.871},
{"date":"2022-05-17","series":"10-YR UST (Right)","value":2.963},
{"date":"2022-05-18","series":"10-YR UST (Right)","value":2.875},
{"date":"2022-05-19","series":"10-YR UST (Right)","value":2.848},
{"date":"2022-05-20","series":"10-YR UST (Right)","value":2.779},
{"date":"2022-05-23","series":"10-YR UST (Right)","value":2.853},
{"date":"2022-05-24","series":"10-YR UST (Right)","value":2.752},
{"date":"2022-05-25","series":"10-YR UST (Right)","value":2.741},
{"date":"2022-05-26","series":"10-YR UST (Right)","value":2.75},
{"date":"2022-05-27","series":"10-YR UST (Right)","value":2.741},
{"date":"2022-05-31","series":"10-YR UST (Right)","value":2.829},
{"date":"2022-06-01","series":"10-YR UST (Right)","value":2.921},
{"date":"2022-06-02","series":"10-YR UST (Right)","value":2.902},
{"date":"2022-06-03","series":"10-YR UST (Right)","value":2.952},
{"date":"2022-06-06","series":"10-YR UST (Right)","value":3.022},
{"date":"2022-06-07","series":"10-YR UST (Right)","value":2.952},
{"date":"2022-06-08","series":"10-YR UST (Right)","value":3.009},
{"date":"2022-06-09","series":"10-YR UST (Right)","value":3.022},
{"date":"2022-06-10","series":"10-YR UST (Right)","value":3.013},
{"date":"2022-06-14","series":"10-YR UST (Right)","value":3.463},
{"date":"2022-06-16","series":"10-YR UST (Right)","value":3.221},
{"date":"2022-06-21","series":"10-YR UST (Right)","value":3.289},
{"date":"2022-06-22","series":"10-YR UST (Right)","value":3.151},
{"date":"2022-06-23","series":"10-YR UST (Right)","value":3.055},
{"date":"2022-06-24","series":"10-YR UST (Right)","value":3.114},
{"date":"2022-06-28","series":"10-YR UST (Right)","value":3.187},
{"date":"2022-06-30","series":"10-YR UST (Right)","value":2.949},
{"date":"2022-07-01","series":"10-YR UST (Right)","value":2.884},
{"date":"2022-07-05","series":"10-YR UST (Right)","value":2.786},
{"date":"2022-07-08","series":"10-YR UST (Right)","value":3.074},
{"date":"2022-07-09","series":"10-YR UST (Right)","value":3.016},
{"date":"2022-07-11","series":"10-YR UST (Right)","value":2.939},
{"date":"2022-07-13","series":"10-YR UST (Right)","value":2.879},
{"date":"2022-07-14","series":"10-YR UST (Right)","value":2.934},
{"date":"2022-07-15","series":"10-YR UST (Right)","value":2.902}
]},
"layer": [
  {
    "transform": [{"filter": "datum.series !== '10-YR UST (Right)'"}],
    "mark": {"type": "line", "strokeWidth": 4.8, "strokeJoin": "round", "strokeCap": "round"},
    "encoding": {
      "x": {"field": "date", "type": "temporal",
        "scale": {"type": "utc", "domain": [{"year": 2021, "month": 7, "date": 14, "utc": true}, {"year": 2022, "month": 7, "date": 15, "utc": true}]},
        "axis": {"title": null, "format": "%-m/%-d/%y", "labelAngle": -45, "labelAlign": "right", "labelBaseline": "middle", "labelPadding": 10, "grid": false, "labelOverlap": false,
          "values": [
            {"year": 2021, "month": 7, "date": 14, "utc": true},
            {"year": 2021, "month": 8, "date": 3, "utc": true},
            {"year": 2021, "month": 8, "date": 23, "utc": true},
            {"year": 2021, "month": 9, "date": 12, "utc": true},
            {"year": 2021, "month": 10, "date": 2, "utc": true},
            {"year": 2021, "month": 10, "date": 22, "utc": true},
            {"year": 2021, "month": 11, "date": 11, "utc": true},
            {"year": 2021, "month": 12, "date": 1, "utc": true},
            {"year": 2021, "month": 12, "date": 21, "utc": true},
            {"year": 2022, "month": 1, "date": 10, "utc": true},
            {"year": 2022, "month": 1, "date": 30, "utc": true},
            {"year": 2022, "month": 2, "date": 19, "utc": true},
            {"year": 2022, "month": 3, "date": 11, "utc": true},
            {"year": 2022, "month": 3, "date": 31, "utc": true},
            {"year": 2022, "month": 4, "date": 20, "utc": true},
            {"year": 2022, "month": 5, "date": 10, "utc": true},
            {"year": 2022, "month": 5, "date": 30, "utc": true},
            {"year": 2022, "month": 6, "date": 19, "utc": true},
            {"year": 2022, "month": 7, "date": 9, "utc": true}
          ]}},
      "y": {"field": "value", "type": "quantitative",
        "scale": {"domain": [94, 115], "nice": false, "zero": false},
        "axis": {"title": "TBA PRice ($)", "values": [94, 96, 98, 100, 102, 104, 106, 108, 110, 112, 114], "grid": true, "gridColor": "#D9D9D9", "gridWidth": 2, "labelPadding": 27, "titlePadding": 12}},
      "color": {"field": "series", "type": "nominal",
        "scale": {"domain": ["G2SF 4.5 TBA", "G2SF 5.0 TBA", "G2SF 5.5 TBA", "10-YR UST (Right)"], "range": ["#5B9BD5", "#70AD47", "#264478", "#FFC000"]},
        "legend": {"title": null, "orient": "none", "legendX": 44, "legendY": 551, "direction": "vertical", "padding": 0, "symbolType": "stroke", "symbolSize": 2900, "symbolStrokeWidth": 4.8, "labelFontSize": 25, "labelFont": "Lato", "labelColor": "#595959", "labelOffset": 5, "rowPadding": 10.5, "labelLimit": 400}}
    }
  },
  {
    "transform": [{"filter": "datum.series === '10-YR UST (Right)'"}],
    "mark": {"type": "line", "strokeWidth": 4.8, "strokeJoin": "round", "strokeCap": "round"},
    "encoding": {
      "x": {"field": "date", "type": "temporal"},
      "y": {"field": "value", "type": "quantitative",
        "scale": {"domain": [0, 3.75], "nice": false},
        "axis": {"orient": "right", "title": "Treasury Rate (%)", "format": ".2f", "values": [0, 0.25, 0.5, 0.75, 1, 1.25, 1.5, 1.75, 2, 2.25, 2.5, 2.75, 3, 3.25, 3.5, 3.75], "grid": false, "labelPadding": 28, "titlePadding": 14}},
      "color": {"field": "series", "type": "nominal"}
    }
  }
],
"resolve": {"scale": {"y": "independent"}}
}
